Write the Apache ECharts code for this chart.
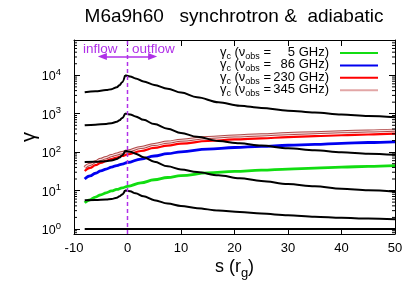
<!DOCTYPE html>
<html>
<head>
<meta charset="utf-8">
<script src="https://cdn.jsdelivr.net/npm/echarts@6/dist/echarts.min.js"></script>
<style>html,body{margin:0;padding:0;background:#fff}#c{width:415px;height:291px}</style>
</head>
<body>
<div id="c"></div>
<script>
// ---- data ----
const titleText = 'M6a9h60   synchrotron &  adiabatic';
const xTicks = [-10, 0, 10, 20, 30, 40, 50];
const yTickExps = [0, 1, 2, 3, 4];

// black curves: Lorentz factor along the jet (inflow side and outflow side)
const sIn  = [-8, -6, -4, -3, -2, -1.5, -1, -0.45];
const sOut = [-0.45, 0.5, 1.5, 3, 5, 7.5, 10, 13, 17, 21, 25, 30, 35, 40, 45, 50];
const g1In  = [3631, 3846, 4121, 4365, 4898, 5495, 6607, 10000];
const g1Out = [10000, 9333, 8318, 6918, 5623, 4467, 3548, 2692, 1995, 1622, 1413, 1202, 1072, 955, 871, 813];
const g2In  = [501, 519, 543, 569, 617, 676, 776, 1023];
const g2Out = [1023, 955, 851, 692, 537, 407, 316, 251, 195, 170, 148, 126, 112, 100, 91, 85];
const g3In  = [55.0, 56.2, 58.2, 61.0, 66.1, 72.4, 83.2, 109.6];
const g3Out = [109.6, 102.3, 91.2, 74.1, 56.2, 42.7, 35.5, 30.2, 25.1, 20.9, 17.8, 14.8, 12.9, 11.2, 10.2, 9.33];
const g4In  = [5.62, 5.69, 5.82, 6.03, 6.46, 7.08, 7.94, 10.2];
const g4Out = [10.2, 9.55, 8.51, 7.08, 5.62, 4.57, 3.98, 3.47, 3.02, 2.75, 2.51, 2.29, 2.09, 1.95, 1.86, 1.78];
const sFlat = [-8, 50];
const gFlat = [1, 1];

// gamma_c curves
const sC = [-8, -7, -6, -5, -4, -3, -2, -1, 0, 2.5, 5, 7.5, 10, 15, 20, 25, 30, 35, 40, 45, 50];
const gc5   = [4.79, 5.75, 6.76, 7.76, 8.71, 9.77, 10.7, 11.7, 12.9, 15.8, 19.1, 21.9, 24.5, 28.8, 31.6, 33.9, 36.3, 38.5, 40.7, 42.7, 44.7];
const gc86  = [20.0, 24.0, 28.2, 32.4, 36.3, 40.7, 44.7, 49.0, 53.7, 66.1, 79.4, 91.2, 102, 120, 132, 141, 151, 160, 170, 178, 186];
const gc230 = [32.4, 38.9, 45.7, 52.5, 58.9, 66.1, 72.4, 79.4, 87.1, 107, 129, 148, 166, 195, 214, 229, 245, 260, 275, 288, 302];
const gc345 = [39.8, 47.9, 56.2, 64.6, 72.4, 81.3, 89.1, 97.7, 107, 132, 158, 182, 204, 240, 263, 282, 302, 320, 339, 355, 372];
const freqLabels = ['5', '86', '230', '345'];

// annotation
const arrowS = [-4.7, 4.7];
const arrowG = 30700;
const textG = 49000;
const inflowS = -5.1;
const outflowS = 4.85;
const dividerS = 0;

// ---- chart ----
const FONT = 'Liberation Sans';
const PURPLE = '#b030e8';
const pairs = (xs, ys) => xs.map((x, i) => [x, ys[i]]);
const Y_MIN = 0.74, Y_MAX = 83000;

const minorVals = [];
for (let k = -1; k <= 4; k++) for (let m = 2; m <= 9; m++) {
  const v = m * Math.pow(10, k);
  if (v > Y_MIN && v < Y_MAX) minorVals.push([-10, v]);
}

const blackStyle = { color: '#000', width: 2 };
function blackSeries(xs, ys) {
  return { type: 'line', data: pairs(xs, ys), showSymbol: false, symbol: 'none',
    smooth: 0.35, smoothMonotone: 'x', lineStyle: blackStyle, z: 5, silent: true };
}
function colSeries(name, ys, color, width, z) {
  return { name: name, type: 'line', data: pairs(sC, ys), showSymbol: false, symbol: 'none',
    smooth: 0.4, smoothMonotone: 'x', lineStyle: { color: color, width: width }, itemStyle: { color: color }, z: z, silent: true };
}

const chart = echarts.init(document.getElementById('c'), null, { renderer: 'canvas' });
const legendRich = {
  t: { fontFamily: FONT, fontSize: 13, color: '#000', lineHeight: 14, verticalAlign: 'top' },
  s: { fontFamily: FONT, fontSize: 9, color: '#000', lineHeight: 10, verticalAlign: 'top', padding: [6, 0, 0, 0] },
  n: { fontFamily: FONT, fontSize: 13, color: '#000', lineHeight: 14, verticalAlign: 'top', width: 24, align: 'right' },
  p: { width: 6, lineHeight: 14 }
};
const legendColors = ['#11dd11', '#0000f0', '#ff0000', '#e2a6a6'];
const axLine = { show: true, onZero: false, lineStyle: { color: '#000', width: 1 } };
const axTick = { show: true, inside: true, length: 6, lineStyle: { color: '#000' } };

chart.setOption({
  animation: false,
  backgroundColor: '#fff',
  grid: { left: 74, right: 20, top: 40, bottom: 57, containLabel: false },
  title: { text: titleText, left: 234, top: 7, textAlign: 'center', padding: 0,
    textStyle: { fontFamily: FONT, fontSize: 19, fontWeight: 'normal', color: '#000' } },
  legend: {
    data: freqLabels.map((f, i) => ({ name: f, icon: 'rect', itemStyle: { color: legendColors[i], borderWidth: 0 } })),
    orient: 'vertical', right: 37, top: 46, align: 'right',
    itemWidth: 38, itemHeight: 2, itemGap: -2.6, padding: 0,
    selectedMode: false,
    formatter: function (name) {
      return '{t|γ}{s|c}{t| (ν}{s|obs}{t| =}{n|' + name + '}{t| GHz)}{p|}';
    },
    textStyle: { rich: legendRich }
  },
  xAxis: [
    { type: 'value', min: -10, max: 50, interval: 10, position: 'bottom',
      axisLine: axLine, axisTick: axTick,
      axisLabel: { show: true, margin: 8, color: '#000', fontFamily: FONT, fontSize: 13 },
      splitLine: { show: false },
      name: '{t|s (r}{s|g}{t|)}', nameLocation: 'middle', nameGap: 24, nameMoveOverlap: false,
      nameTextStyle: { rich: {
        t: { fontFamily: FONT, fontSize: 18, color: '#000', lineHeight: 20, verticalAlign: 'top' },
        s: { fontFamily: FONT, fontSize: 13, color: '#000', lineHeight: 14, verticalAlign: 'top', padding: [9, 0, 0, 0] } } } },
    { type: 'value', min: -10, max: 50, interval: 10, position: 'top',
      axisLine: axLine, axisTick: axTick,
      axisLabel: { show: false }, splitLine: { show: false } }
  ],
  yAxis: [
    { type: 'log', logBase: 10, min: Y_MIN, max: Y_MAX, position: 'left',
      axisLine: axLine, axisTick: axTick,
      axisLabel: { show: true, margin: 13, showMinLabel: false, showMaxLabel: false,
        formatter: function (v) {
          const e = Math.round(Math.log10(v));
          if (Math.abs(Math.log10(v) - e) > 1e-6 || yTickExps.indexOf(e) < 0) return '';
          return '{b|10}{e|' + e + '}';
        },
        rich: {
          b: { fontFamily: FONT, fontSize: 12.5, color: '#000', lineHeight: 16, verticalAlign: 'bottom' },
          e: { fontFamily: FONT, fontSize: 9.5, color: '#000', lineHeight: 10, verticalAlign: 'top' } } },
      splitLine: { show: false },
      name: 'γ', nameLocation: 'middle', nameRotate: 90, nameGap: 35, nameMoveOverlap: false,
      nameTextStyle: { fontFamily: FONT, fontSize: 20, color: '#000' } },
    { type: 'log', logBase: 10, min: Y_MIN, max: Y_MAX, position: 'right',
      axisLine: axLine, axisTick: axTick,
      axisLabel: { show: false }, splitLine: { show: false } }
  ],
  series: [
    colSeries('5', gc5, legendColors[0], 2.8, 3),
    colSeries('86', gc86, legendColors[1], 2.8, 3),
    colSeries('230', gc230, legendColors[2], 2.2, 3),
    { type: 'line', data: pairs(sC, gc345), showSymbol: false, symbol: 'none', smooth: 0.4, smoothMonotone: 'x',
      lineStyle: { color: '#b04848', width: 3.2 }, z: 3, silent: true },
    colSeries('345', gc345, '#f6dede', 1.2, 4),
    blackSeries(sIn, g1In), blackSeries(sOut, g1Out),
    blackSeries(sIn, g2In), blackSeries(sOut, g2Out),
    blackSeries(sIn, g3In), blackSeries(sOut, g3Out),
    blackSeries(sIn, g4In), blackSeries(sOut, g4Out),
    blackSeries(sFlat, gFlat),
    { type: 'line', data: [[dividerS, Y_MIN], [dividerS, Y_MAX]], showSymbol: false, symbol: 'none', silent: true, z: 6,
      lineStyle: { color: PURPLE, width: 1.5, type: [4, 3] } },
    { type: 'line', data: [], silent: true, z: 6,
      markLine: { silent: true, symbol: ['triangle', 'triangle'], symbolSize: [7, 9], label: { show: false },
        lineStyle: { color: PURPLE, width: 1.5, type: 'solid' }, itemStyle: { color: PURPLE },
        data: [ [ { coord: [arrowS[0], arrowG] }, { coord: [arrowS[1], arrowG] } ] ] },
      markPoint: { silent: true, symbol: 'circle', symbolSize: 0,
        label: { show: true, color: PURPLE, fontFamily: FONT, fontSize: 13.5, position: 'inside', formatter: '{b}' },
        data: [ { name: 'inflow', coord: [inflowS, textG] }, { name: 'outflow', coord: [outflowS, textG] } ] } },
    { type: 'custom', silent: true, z: 7, data: minorVals,
      renderItem: function (params, api) {
        const v = api.value(1);
        const pL = api.coord([-10, v]);
        const pR = api.coord([50, v]);
        return { type: 'group', children: [
          { type: 'line', shape: { x1: pL[0], y1: pL[1], x2: pL[0] + 3, y2: pL[1] }, style: { stroke: '#000', lineWidth: 1 } },
          { type: 'line', shape: { x1: pR[0] - 3, y1: pR[1], x2: pR[0], y2: pR[1] }, style: { stroke: '#000', lineWidth: 1 } }
        ] };
      } }
  ]
});
</script>
</body>
</html>
